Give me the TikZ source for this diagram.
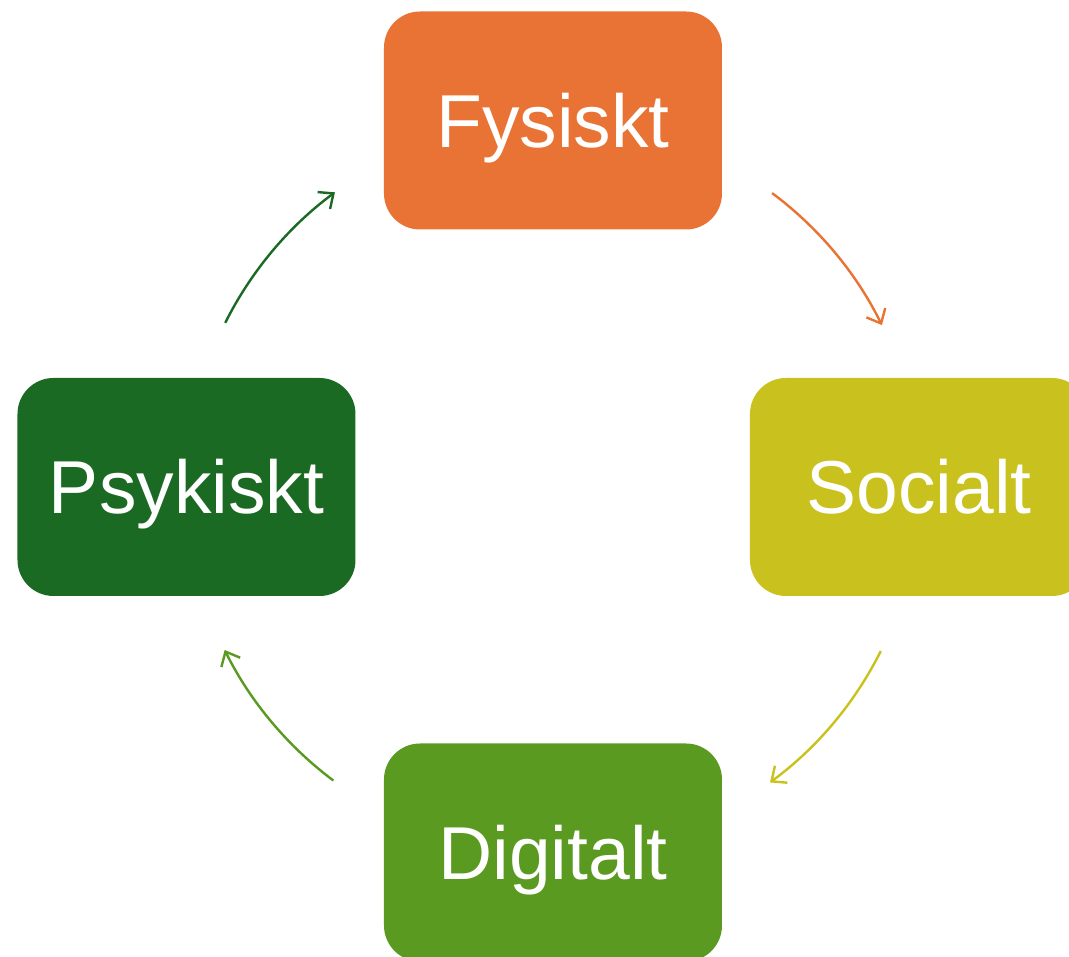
\documentclass[tikz,border=0pt]{standalone}
\usepackage{fontspec}
\setmainfont{Liberation Sans}
\usetikzlibrary{arrows.meta}
\definecolor{cFys}{HTML}{E97334}
\definecolor{cSoc}{HTML}{C9C21E}
\definecolor{cDig}{HTML}{5A9A20}
\definecolor{cPsy}{HTML}{1B6A24}
\tikzset{
  box/.style={rounded corners=36pt, minimum width=338pt, minimum height=218pt,
    text=white, inner sep=0pt, text height=54pt, text depth=0pt,
    font=\fontsize{75}{80}\selectfont},
  cyc/.style={line width=2.4pt, -{Straight Barb[length=12pt,width=21pt,line width=2.4pt]}}
}
\begin{document}
\begin{tikzpicture}[x=1pt,y=1pt]
\useasboundingbox (-553,-470) rectangle (516,487);
\node[box, fill=cFys] (fys) at (0,366.5) {Fysiskt};
\node[box, fill=cSoc] (soc) at (366,0) {Socialt};
\node[box, fill=cDig] (dig) at (0,-365.5) {Digitalt};
\node[box, fill=cPsy] (psy) at (-366.5,0) {Psykiskt};
\coordinate (a1) at (53.3:366.6);
\coordinate (a2) at (-26.6:366.6);
\coordinate (a3) at (-126.8:366.6);
\coordinate (a4) at (153.4:366.6);
\draw[cyc, cFys] (a1) arc[start angle=53.3, end angle=26.2, radius=366.6];
\draw[cyc, cSoc] (a2) arc[start angle=-26.6, end angle=-53.7, radius=366.6];
\draw[cyc, cDig] (a3) arc[start angle=-126.8, end angle=-153.6, radius=366.6];
\draw[cyc, cPsy] (a4) arc[start angle=153.4, end angle=126.5, radius=366.6];
\end{tikzpicture}
\end{document}
